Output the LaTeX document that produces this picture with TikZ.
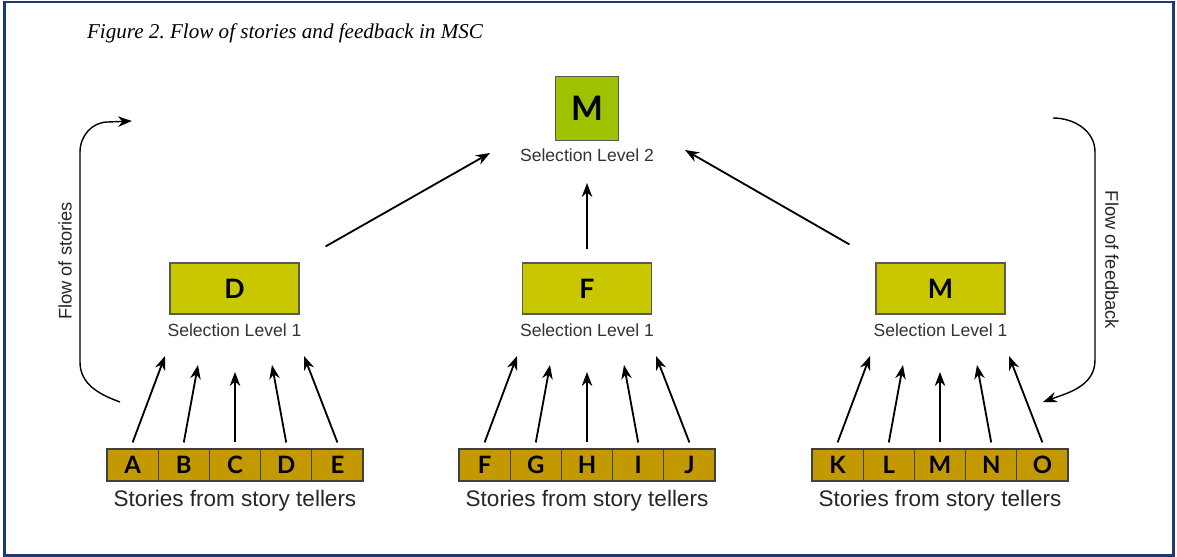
\documentclass[tikz,border=0pt]{standalone}
\usepackage{fontspec}
\usetikzlibrary{arrows.meta}

\newfontfamily\labelfont{Liberation Sans}
\newfontfamily\letterfont{Lato}
\newfontfamily\titlefont{Liberation Serif}

\definecolor{framecol}{HTML}{1B3A73}
\definecolor{topcol}{HTML}{9DC300}
\definecolor{midcol}{HTML}{C9C800}
\definecolor{cellcol}{HTML}{C29A00}

\frenchspacing

\begin{document}
\begin{tikzpicture}[x=0.025cm, y=-0.025cm,
        >={Stealth[length=10pt, width=7.5pt]},
        flow/.style={->, line width=1.3pt},
        bracket/.style={->, line width=1pt},
        topbox/.style={rectangle, draw=black!65, line width=0.8pt, fill=topcol, minimum width=1.575cm, minimum height=1.6cm, inner sep=0pt, font=\letterfont\bfseries\fontsize{24}{28}\selectfont},
        lvlbox/.style={rectangle, draw=black!65, line width=0.8pt, fill=midcol, minimum width=3.225cm, minimum height=1.275cm, inner sep=0pt, font=\letterfont\bfseries\fontsize{19}{22}\selectfont},
        cell/.style={rectangle, draw=black!75, line width=0.8pt, fill=cellcol, minimum width=1.28cm, minimum height=0.8cm, inner sep=0pt, font=\letterfont\bfseries\fontsize{17}{20}\selectfont},
        lvllabel/.style={text=black!80, font=\labelfont\fontsize{12.5}{14}\selectfont},
        storylabel/.style={text=black!85, font=\labelfont\fontsize{16}{19}\selectfont},
        sidelabel/.style={text=black!85, font=\labelfont\fontsize{13}{15}\selectfont}
    ]

        \useasboundingbox (0,0) rectangle (1177,557);

        \draw[framecol, line width=1.8pt] (4.5,2) rectangle (1173.5,555.5);

        \node (title) at (285, 33) [font=\titlefont\itshape\fontsize{15}{18}\selectfont] {Figure 2. Flow of stories and feedback in MSC};

        % Selection level 2

        \node (top) at (587, 108.5) [topbox] {M};

        \node (lblTop) at (587, 155) [lvllabel] {Selection Level 2};

        % Selection level 1

        \node (lvlD) at (234.5, 288.5) [lvlbox] {D};

        \node (lvlF) at (587, 288.5) [lvlbox] {F};

        \node (lvlM) at (940.5, 288.5) [lvlbox] {M};

        \node (lblD) at (234.5, 330) [lvllabel] {Selection Level 1};

        \node (lblF) at (587, 330) [lvllabel] {Selection Level 1};

        \node (lblM) at (940.5, 330) [lvllabel] {Selection Level 1};

        % Stories (cells)

        \node (cA) at ( 132.6, 465 ) [cell] {A};
        \node (cB) at ( 183.8, 465 ) [cell] {B};
        \node (cC) at ( 235.0, 465 ) [cell] {C};
        \node (cD) at ( 286.2, 465 ) [cell] {D};
        \node (cE) at ( 337.4, 465 ) [cell] {E};

        \node (cF) at ( 484.6, 465 ) [cell] {F};
        \node (cG) at ( 535.8, 465 ) [cell] {G};
        \node (cH) at ( 587.0, 465 ) [cell] {H};
        \node (cI) at ( 638.2, 465 ) [cell] {I};
        \node (cJ) at ( 689.4, 465 ) [cell] {J};

        \node (cK) at ( 837.6, 465 ) [cell] {K};
        \node (cL) at ( 888.8, 465 ) [cell] {L};
        \node (cM) at ( 940.0, 465 ) [cell] {M};
        \node (cN) at ( 991.2, 465 ) [cell] {N};
        \node (cO) at ( 1042.4, 465 ) [cell] {O};

        \node (storiesL) at (235, 501) [storylabel] {Stories from story tellers};

        \node (storiesC) at (587, 501) [storylabel] {Stories from story tellers};

        \node (storiesR) at (940, 501) [storylabel] {Stories from story tellers};

        % Arrow tips

        \coordinate (tA) at (165, 356);
        \coordinate (tB) at (198, 365);
        \coordinate (tC) at (235, 372);
        \coordinate (tD) at (272, 365);
        \coordinate (tE) at (304, 356);

        \coordinate (tF) at (517, 356);
        \coordinate (tG) at (550, 365);
        \coordinate (tH) at (587, 372);
        \coordinate (tI) at (624, 365);
        \coordinate (tJ) at (656, 356);

        \coordinate (tK) at (870, 356);
        \coordinate (tL) at (903, 365);
        \coordinate (tM) at (940, 372);
        \coordinate (tN) at (977, 365);
        \coordinate (tO) at (1009, 356);

        \coordinate (tTopL) at (490, 153);
        \coordinate (tTopC) at (587, 183);
        \coordinate (tTopR) at (685, 150);

        % Draw arrows between nodes

        \draw[flow] ([shift={(0,-6)}]cA.north) -- (tA);
        \draw[flow] ([shift={(0,-6)}]cB.north) -- (tB);
        \draw[flow] ([shift={(0,-6)}]cC.north) -- (tC);
        \draw[flow] ([shift={(0,-6)}]cD.north) -- (tD);
        \draw[flow] ([shift={(0,-6)}]cE.north) -- (tE);

        \draw[flow] ([shift={(0,-6)}]cF.north) -- (tF);
        \draw[flow] ([shift={(0,-6)}]cG.north) -- (tG);
        \draw[flow] ([shift={(0,-6)}]cH.north) -- (tH);
        \draw[flow] ([shift={(0,-6)}]cI.north) -- (tI);
        \draw[flow] ([shift={(0,-6)}]cJ.north) -- (tJ);

        \draw[flow] ([shift={(0,-6)}]cK.north) -- (tK);
        \draw[flow] ([shift={(0,-6)}]cL.north) -- (tL);
        \draw[flow] ([shift={(0,-6)}]cM.north) -- (tM);
        \draw[flow] ([shift={(0,-6)}]cN.north) -- (tN);
        \draw[flow] ([shift={(0,-6)}]cO.north) -- (tO);

        \draw[flow] ([shift={(26,-16)}]lvlD.north east) -- (tTopL);

        \draw[flow] ([shift={(0,-13)}]lvlF.north) -- (tTopC);

        \draw[flow] ([shift={(-26,-18)}]lvlM.north west) -- (tTopR);

        % Flow of stories / feedback

        \coordinate (storyFrom) at (120, 402);
        \coordinate (storyTo) at (132, 121);
        \coordinate (backFrom) at (1053, 118);
        \coordinate (backTo) at (1043, 402);

        \draw[bracket] (storyFrom) to[out=160, in=-90] (80, 362) -- (80, 152) to[out=90, in=180] (108, 122) -- (storyTo);

        \draw[bracket] (backFrom) to[out=0, in=90] (1095, 152) -- (1095, 360) to[out=-90, in=20] (backTo);

        \node (storyText) at (65, 261) [sidelabel, rotate=90] {Flow of stories};

        \node (backText) at (1112, 260) [sidelabel, rotate=-90] {Flow of feedback};

    \end{tikzpicture}
\end{document}
